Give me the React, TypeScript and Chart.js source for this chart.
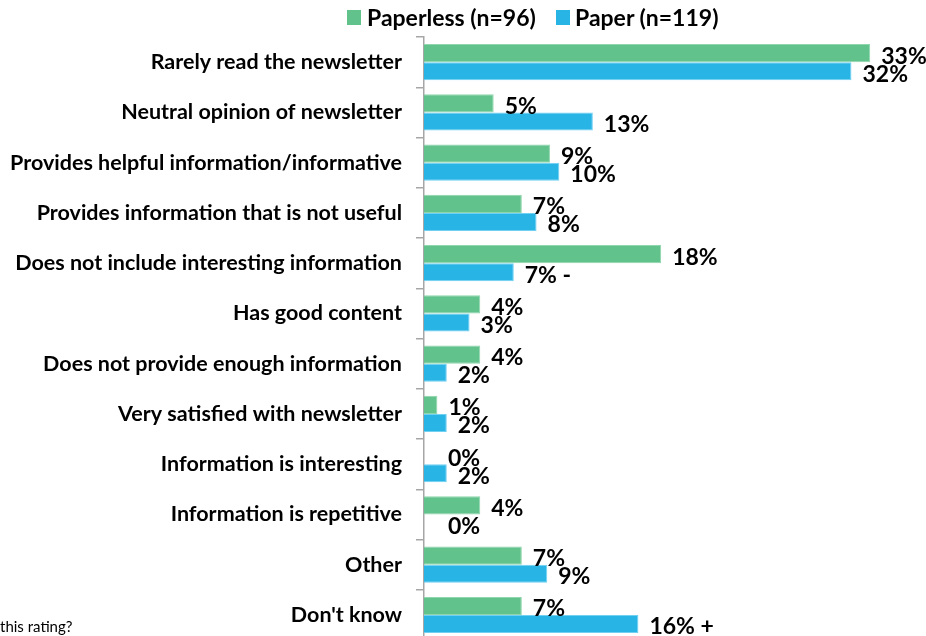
import React, { useEffect, useRef } from "react";
import { Chart, registerables } from "chart.js";

Chart.register(...registerables);

const categories = [
  "Rarely read the newsletter",
  "Neutral opinion of newsletter",
  "Provides helpful information/informative",
  "Provides information that is not useful",
  "Does not include interesting information",
  "Has good content",
  "Does not provide enough information",
  "Very satisfied with newsletter",
  "Information is interesting",
  "Information is repetitive",
  "Other",
  "Don't know",
];

const paperlessValues = [33.3, 5.2, 9.4, 7.3, 17.7, 4.2, 4.2, 1.0, 0, 4.2, 7.3, 7.3];
const paperValues = [31.9, 12.6, 10.1, 8.4, 6.7, 3.4, 1.7, 1.7, 1.7, 0, 9.2, 16.0];

const paperlessLabels = ["33%", "5%", "9%", "7%", "18%", "4%", "4%", "1%", "0%", "4%", "7%", "7%"];
const paperLabels = ["32%", "13%", "10%", "8%", "7% -", "3%", "2%", "2%", "2%", "0%", "9%", "16% +"];

const seriesNames = ["Paperless (n=96)", "Paper (n=119)"];
const GREEN = "#61C28B";
const BLUE = "#29B4E6";
const FONT = "Lato, 'Noto Sans', sans-serif";

const labelPlugin = {
  id: "barValueLabels",
  afterDatasetsDraw(chart: any) {
    const ctx = chart.ctx;
    const texts = [paperlessLabels, paperLabels];
    ctx.save();
    ctx.font = `bold 23px ${FONT}`;
    ctx.fillStyle = "#000";
    ctx.textAlign = "left";
    ctx.textBaseline = "middle";
    chart.data.datasets.forEach((ds: any, di: number) => {
      const meta = chart.getDatasetMeta(di);
      meta.data.forEach((el: any, i: number) => {
        const v = ds.data[i];
        const off = v === 0 ? 24 : 11;
        ctx.fillText(texts[di][i], el.x + off, el.y + 3);
      });
    });
    ctx.restore();
  },
};

export default function App() {
  const ref = useRef<HTMLCanvasElement>(null);

  useEffect(() => {
    if (!ref.current) return;
    const chart = new Chart(ref.current, {
      type: "bar",
      data: {
        labels: categories,
        datasets: [
          {
            label: seriesNames[0],
            data: paperlessValues,
            backgroundColor: GREEN,
            borderColor: "#8fd6ad",
            borderWidth: 1,
            categoryPercentage: 0.72,
            barPercentage: 1.0,
          },
          {
            label: seriesNames[1],
            data: paperValues,
            backgroundColor: BLUE,
            borderColor: "#6fd0f2",
            borderWidth: 1,
            categoryPercentage: 0.72,
            barPercentage: 1.0,
          },
        ],
      },
      options: {
        indexAxis: "y",
        responsive: false,
        animation: false,
        devicePixelRatio: 1,
        layout: { padding: { top: 37, bottom: 2, left: 0, right: 33 } },
        plugins: {
          legend: { display: false },
          tooltip: { enabled: false },
        },
        scales: {
          x: {
            display: false,
            min: 0,
            max: 35,
          },
          y: {
            afterFit: (scale: any) => {
              scale.width = 424;
            },
            border: { display: true, color: "#A6A6A6", width: 1.5 },
            grid: {
              drawOnChartArea: false,
              drawTicks: true,
              tickLength: 8,
              color: "#A6A6A6",
              lineWidth: 1.5,
              offset: true,
            },
            ticks: {
              color: "#000",
              padding: 14,
              font: { family: FONT, size: 21.5, weight: "bold" },
            },
          },
        },
      },
      plugins: [labelPlugin],
    });
    return () => chart.destroy();
  }, []);

  const legendText: React.CSSProperties = {
    position: "absolute",
    top: 3,
    fontFamily: FONT,
    fontWeight: "bold",
    fontSize: 23,
    lineHeight: "28px",
    color: "#000",
    whiteSpace: "nowrap",
  };
  const box = (c: string, left: number): React.CSSProperties => ({
    position: "absolute",
    left,
    top: 10,
    width: 14,
    height: 15,
    background: c,
  });

  return (
    <div style={{ position: "absolute", left: 0, top: 0, width: 926, height: 636, overflow: "hidden" }}>
      <canvas ref={ref} width={926} height={667} style={{ position: "absolute", left: 0, top: 0 }} />
      <span style={box(GREEN, 347)} />
      <span style={{ ...legendText, left: 367 }}>{seriesNames[0]}</span>
      <span style={box(BLUE, 556)} />
      <span style={{ ...legendText, left: 575 }}>{seriesNames[1]}</span>
      <div
        style={{
          position: "absolute",
          left: 0,
          top: 617,
          fontFamily: FONT,
          fontSize: 15,
          lineHeight: "18px",
          color: "#000",
          whiteSpace: "nowrap",
        }}
      >
        this rating?
      </div>
    </div>
  );
}
